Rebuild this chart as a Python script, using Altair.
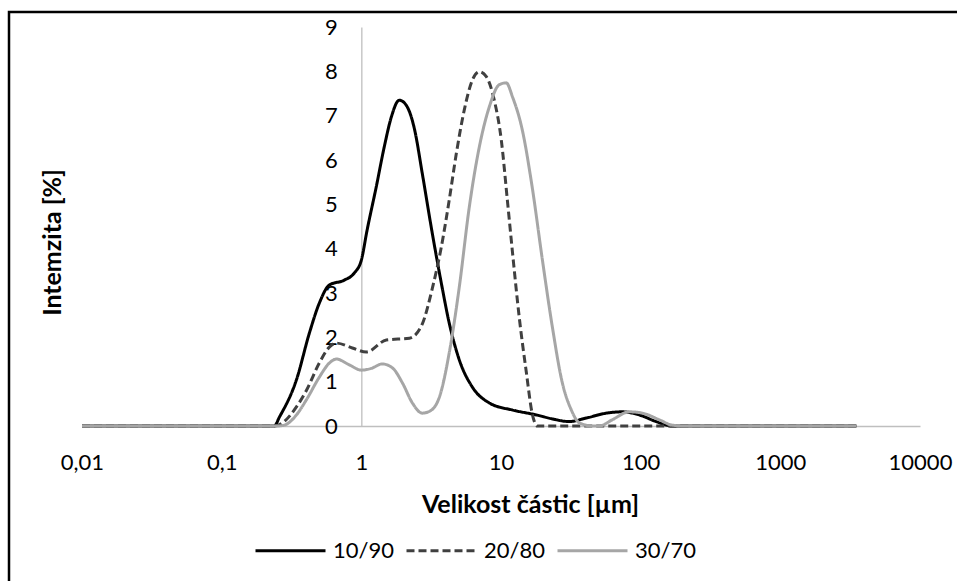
import altair as alt
import pandas as pd

# ---- data ----
series_names = ["10/90", "20/80", "30/70"]

x_1090 = [0.01, 0.2, 0.238, 0.259, 0.343, 0.425, 0.5, 0.59, 0.755, 0.89,
          1.0, 1.1, 1.28, 1.46, 1.64, 1.87, 2.13, 2.4, 2.73, 3.22,
          3.74, 4.26, 5.03, 6.23, 8.25, 12.1, 17.9, 23.3, 30.8, 40.8,
          56.8, 73.8, 97.7, 129, 168, 3500]
y_1090 = [0, 0, 0, 0.2, 1.04, 2.1, 2.77, 3.18, 3.29, 3.45,
          3.74, 4.42, 5.4, 6.3, 6.97, 7.35, 7.2, 6.7, 5.7, 4.35,
          3.22, 2.32, 1.49, 0.88, 0.52, 0.36, 0.25, 0.16, 0.1, 0.18,
          0.29, 0.32, 0.25, 0.1, 0, 0]

x_2080 = [0.01, 0.24, 0.272, 0.343, 0.404, 0.5, 0.59, 0.663, 0.862, 1.086,
          1.51, 2.21, 2.73, 3.22, 3.74, 4.26, 4.79, 5.46, 6.23, 7.0,
          7.85, 8.95, 10.05, 11.1, 12.1, 13.5, 15.2, 16.7, 18.2, 3500]
y_2080 = [0, 0, 0.07, 0.43, 0.8, 1.42, 1.78, 1.87, 1.76, 1.67,
          1.94, 1.98, 2.3, 3.1, 4.04, 5.1, 6.15, 7.13, 7.8, 7.99,
          7.88, 7.35, 6.45, 5.1, 3.9, 2.46, 1.2, 0.29, 0, 0]

x_3070 = [0.01, 0.25, 0.281, 0.343, 0.404, 0.5, 0.59, 0.663, 0.82, 1.0,
          1.18, 1.41, 1.67, 1.97, 2.32, 2.73, 3.07, 3.62, 4.26, 5.03,
          5.93, 7.0, 8.25, 9.73, 10.9, 12.1, 14.2, 16.7, 19.8, 23.3,
          27.5, 31.9, 36.4, 45.1, 50.6, 62.6, 82.8, 103, 136, 168,
          212, 3500]
y_3070 = [0, 0, 0.02, 0.25, 0.59, 1.1, 1.42, 1.51, 1.38, 1.26,
          1.3, 1.4, 1.31, 0.97, 0.52, 0.29, 0.33, 0.65, 1.65, 3.14,
          4.94, 6.3, 7.2, 7.7, 7.74, 7.42, 6.68, 5.4, 3.74, 2.24,
          0.97, 0.36, 0.07, 0, 0, 0.14, 0.32, 0.29, 0.14, 0.02,
          0, 0]

x_ticks = [0.01, 0.1, 1, 10, 100, 1000, 10000]
y_ticks = [0, 1, 2, 3, 4, 5, 6, 7, 8, 9]

series_colors = ["#000000", "#404040", "#A6A6A6"]
series_dashes = [[1, 0], [8, 4], [1, 0]]

rows = []
for name, xs, ys in zip(series_names, [x_1090, x_2080, x_3070], [y_1090, y_2080, y_3070]):
    for i, (xv, yv) in enumerate(zip(xs, ys)):
        rows.append({"series": name, "size": xv, "value": yv, "i": i})
df = pd.DataFrame(rows)

FONT = "Lato"
W, H = 838, 399
PX_PER_DECADE = W / 6.0
Y_AXIS_POS = 2 * PX_PER_DECADE  # position of x = 1

legend_cfg = alt.Legend(
    title=None, orient="none", direction="horizontal",
    legendX=172, legendY=487,
    symbolType="stroke", symbolSize=4900, symbolStrokeWidth=3,
    labelFont=FONT, labelFontSize=22, labelColor="#000000",
    labelOffset=6, columnPadding=6,
)

lines = alt.Chart(df).mark_line(strokeWidth=3, interpolate="monotone").encode(
    x=alt.X("size:Q",
            scale=alt.Scale(type="log", domain=[0.01, 10000], nice=False),
            axis=alt.Axis(values=x_ticks, title="Velikost částic [µm]",
                          labelExpr="replace(toString(datum.value), '.', ',')",
                          grid=False, ticks=False, domainColor="#BFBFBF", domainWidth=1.3,
                          labelPadding=26, labelFont=FONT, labelFontSize=22,
                          labelColor="#000000", labelFlush=False,
                          titleFont=FONT, titleFontSize=25, titleFontWeight="bold",
                          titleColor="#000000", titleX=448, titleY=78,
                          titleBaseline="middle", titleAnchor="start", titleAlign="center")),
    y=alt.Y("value:Q",
            scale=alt.Scale(domain=[0, 9], nice=False),
            axis=alt.Axis(values=y_ticks, title="Intemzita [%]", offset=-Y_AXIS_POS,
                          grid=False, ticks=False, domainColor="#BFBFBF", domainWidth=1.3,
                          labelPadding=24, labelFont=FONT, labelFontSize=22,
                          labelColor="#000000", labelFlush=False,
                          titleFont=FONT, titleFontSize=25, titleFontWeight="bold",
                          titleColor="#000000", titleX=-(Y_AXIS_POS + 82 - 52),
                          titleY=215, titleBaseline="middle", titleAngle=-90,
                          titleAlign="center")),
    color=alt.Color("series:N", scale=alt.Scale(domain=series_names, range=series_colors),
                    legend=legend_cfg),
    strokeDash=alt.StrokeDash("series:N", scale=alt.Scale(domain=series_names, range=series_dashes),
                              legend=legend_cfg),
    order="i:Q",
)

frame = alt.Chart(pd.DataFrame({"f": [0]})).mark_rect(
    fillOpacity=0, stroke="#000000", strokeWidth=2.5
).encode(
    x=alt.value(-73), y=alt.value(-15), x2=alt.value(1200), y2=alt.value(900)
)

chart = alt.layer(lines, frame).properties(
    width=W, height=H,
    autosize=alt.AutoSizeParams(type="none"),
    padding={"left": 82, "top": 27, "right": 37, "bottom": 155},
    background="#FFFFFF",
).configure_view(stroke=None)

chart.save("out.html", embed_options={"renderer": "svg", "actions": False})
